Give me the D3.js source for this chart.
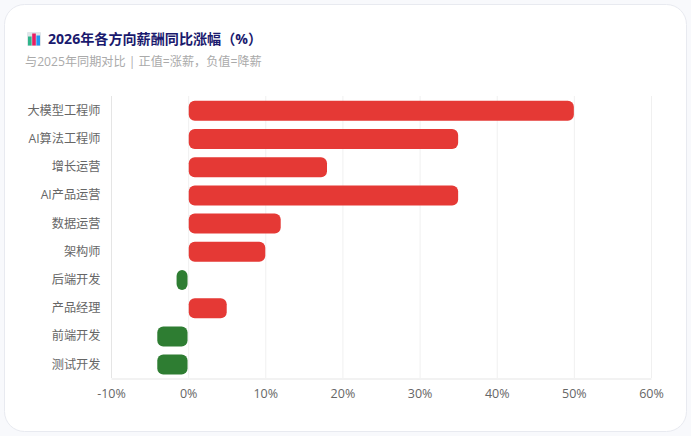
<!DOCTYPE html>
<html>
<head>
<meta charset="utf-8">
<script src="https://cdn.jsdelivr.net/npm/d3@7"></script>
<style>
  html, body { margin: 0; padding: 0; background: #f8f9fc; overflow: hidden; }
  svg { display: block; font-family: "Open Sans", "Noto Sans CJK SC", sans-serif; }
</style>
</head>
<body>
<script>
  const categories = ['大模型工程师', 'AI算法工程师', '增长运营', 'AI产品运营', '数据运营', '架构师', '后端开发', '产品经理', '前端开发', '测试开发'];
  const values = [50, 35, 18, 35, 12, 10, -1.5, 5, -4, -4];
  const xTicks = [-10, 0, 10, 20, 30, 40, 50, 60];
  const iconBars = [
    { color: '#2fb58a', h: 9 },
    { color: '#e91e63', h: 12 },
    { color: '#2196f3', h: 10 }
  ];

  const width = 691;
  const height = 436;
  const margin = { top: 96, right: 40, bottom: 58, left: 111 };

  const svg = d3.select('body')
    .append('svg')
    .attr('width', width)
    .attr('height', height);

  // card
  svg.append('rect')
    .attr('x', 4.5)
    .attr('y', 4.5)
    .attr('width', 682)
    .attr('height', 427)
    .attr('rx', 20)
    .attr('fill', '#fff')
    .attr('stroke', '#e8eaf0');

  // title icon
  const icon = svg.append('g').attr('transform', 'translate(27,32)');
  icon.append('rect')
    .attr('width', 14)
    .attr('height', 14)
    .attr('rx', 1)
    .attr('fill', '#dfe6ea');
  iconBars.forEach((d, i) => {
    icon.append('rect')
      .attr('x', 1 + i * 4.2)
      .attr('y', 13.5 - d.h)
      .attr('width', 3.6)
      .attr('height', d.h)
      .attr('fill', d.color);
  });

  svg.append('text')
    .attr('x', 48)
    .attr('y', 44)
    .attr('font-size', 14.1)
    .attr('font-weight', 700)
    .attr('fill', '#1a1a6e')
    .text('2026年各方向薪酬同比涨幅（%）');

  svg.append('text')
    .attr('x', 25)
    .attr('y', 66)
    .attr('font-size', 12.15)
    .attr('fill', '#aaaaaa')
    .text('与2025年同期对比 | 正值=涨薪，负值=降薪');

  const x = d3.scaleLinear()
    .domain([-10, 60])
    .range([margin.left, width - margin.right]);

  const y = d3.scaleBand()
    .domain(categories)
    .range([margin.top + 0.7, height - margin.bottom + 0.7])
    .paddingInner(0.29)
    .paddingOuter(0.145);

  // grid
  svg.append('g')
    .selectAll('line')
    .data(xTicks)
    .join('line')
    .attr('x1', (d) => x(d) + 0.5)
    .attr('x2', (d) => x(d) + 0.5)
    .attr('y1', margin.top)
    .attr('y2', height - margin.bottom)
    .attr('stroke', (d) => (d === -10 ? '#e5e5e5' : '#f0f0f0'));

  const xAxis = svg.append('g')
    .attr('transform', `translate(0,${height - margin.bottom + 0.5})`)
    .call(d3.axisBottom(x).tickValues(xTicks).tickFormat((d) => d + '%').tickSize(0).tickPadding(11));
  xAxis.select('.domain').attr('stroke', '#e5e5e5');
  xAxis.selectAll('text')
    .attr('font-size', 12.5)
    .attr('font-family', '"Open Sans", "Noto Sans CJK SC", sans-serif')
    .attr('fill', '#666');

  const yAxis = svg.append('g')
    .attr('transform', `translate(${margin.left},0)`)
    .call(d3.axisLeft(y).tickSize(0).tickPadding(10.5));
  yAxis.select('.domain').remove();
  yAxis.selectAll('text')
    .attr('font-size', 12.2)
    .attr('font-family', '"Open Sans", "Noto Sans CJK SC", sans-serif')
    .attr('fill', '#666');

  // bars, a small gap from the zero line on the positive side
  svg.append('g')
    .selectAll('rect')
    .data(values)
    .join('rect')
    .attr('x', (d) => (d >= 0 ? x(0) + 0.6 : x(d)))
    .attr('y', (d, i) => y(categories[i]))
    .attr('width', (d) => Math.abs(x(d) - x(0)) - 0.6)
    .attr('height', y.bandwidth())
    .attr('rx', 6)
    .attr('fill', (d) => (d >= 0 ? '#e53935' : '#2e7d32'));
</script>
</body>
</html>
